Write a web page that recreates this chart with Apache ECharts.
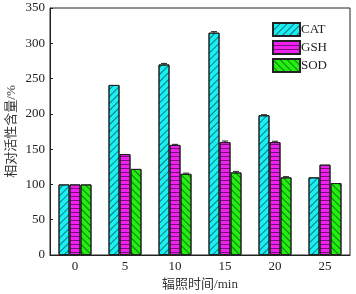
<!DOCTYPE html>
<html>
<head>
<meta charset="utf-8">
<script src="https://cdn.jsdelivr.net/npm/echarts@6/dist/echarts.min.js"></script>
<style>
  html, body { margin: 0; padding: 0; background: #fff; }
  #chart { width: 356px; height: 294px; }
</style>
</head>
<body>
<div id="chart"></div>
<script>
// irradiation time (min)
const times = ['0', '5', '10', '15', '20', '25'];
const catValues = [100, 241, 270, 315, 198, 110];
const gshValues = [100, 143, 156, 160, 160, 128];
const sodValues = [100, 122, 115, 117, 110, 102];
const catErr = [0, 0, 1.5, 1.5, 0.8, 0];
const gshErr = [0, 0, 0.8, 1.5, 1.2, 0];
const sodErr = [0, 0, 1, 1.5, 1, 0];

const serif = 'Liberation Serif, Times New Roman, serif';
const cjk = 'Liberation Serif, Noto Sans CJK SC, serif';

function hatch(rotation, gap) {
  return {
    symbol: 'rect',
    color: 'rgba(0,0,0,0.5)',
    dashArrayX: [1, 0],
    dashArrayY: [1, gap],
    rotation: rotation,
    symbolSize: 1
  };
}

function barSeries(name, data, color, decal) {
  return {
    name: name,
    type: 'bar',
    data: data,
    barWidth: 11,
    barGap: '0%',
    itemStyle: { color: color, borderColor: '#222', borderWidth: 1, decal: decal },
    emphasis: { disabled: true }
  };
}

// small error caps drawn on top of the bars
function errSeries(values, errs, offset) {
  return {
    type: 'custom',
    silent: true,
    z: 5,
    data: values.map((v, i) => [i, v, errs[i]]),
    renderItem: (params, api) => {
      const e = api.value(2);
      if (!e) return null;
      const top = api.coord([api.value(0), api.value(1) + e]);
      const bot = api.coord([api.value(0), api.value(1) - e]);
      const x = top[0] + offset;
      const style = { stroke: '#222', lineWidth: 1 };
      return {
        type: 'group',
        children: [
          { type: 'line', shape: { x1: x, y1: top[1], x2: x, y2: bot[1] }, style },
          { type: 'line', shape: { x1: x - 3, y1: top[1], x2: x + 3, y2: top[1] }, style }
        ]
      };
    }
  };
}

const chart = echarts.init(document.getElementById('chart'));
chart.setOption({
  animation: false,
  grid: {
    left: 50, right: 6, top: 8, bottom: 39,
    outerBoundsMode: 'none',
    show: true, borderColor: '#222', borderWidth: 1
  },
  legend: {
    data: ['CAT', 'GSH', 'SOD'],
    orient: 'vertical',
    left: 272,
    top: 22,
    padding: 0,
    itemWidth: 27,
    itemHeight: 13,
    itemGap: 3,
    icon: 'rect',
    textStyle: { fontFamily: serif, fontSize: 13, color: '#222', padding: [0, 0, 0, -4] },
    selectedMode: false
  },
  xAxis: {
    type: 'category',
    data: times,
    name: '辐照时间/min',
    nameLocation: 'middle',
    nameMoveOverlap: false,
    nameGap: 23,
    nameTextStyle: { fontFamily: cjk, fontSize: 13, color: '#333' },
    axisLine: { lineStyle: { color: '#222' } },
    axisTick: { show: false },
    axisLabel: { fontFamily: serif, fontSize: 13, color: '#222', margin: 5 }
  },
  yAxis: {
    type: 'value',
    min: 0,
    max: 350,
    interval: 50,
    name: '相对活性含量/%',
    nameLocation: 'middle',
    nameMoveOverlap: false,
    nameGap: 32,
    nameTextStyle: { fontFamily: cjk, fontSize: 13, color: '#333' },
    axisLine: { show: true, lineStyle: { color: '#222' } },
    axisTick: { show: true, inside: true, length: 3, lineStyle: { color: '#222' } },
    splitLine: { show: false },
    axisLabel: { fontFamily: serif, fontSize: 13, color: '#222', margin: 5 }
  },
  series: [
    barSeries('CAT', catValues, '#19f0f5', hatch(-Math.PI / 4, 4)),
    barSeries('GSH', gshValues, '#f020f0', hatch(0, 3)),
    barSeries('SOD', sodValues, '#22ee10', hatch(Math.PI / 4, 4)),
    errSeries(catValues, catErr, -11),
    errSeries(gshValues, gshErr, 0),
    errSeries(sodValues, sodErr, 11)
  ]
});
</script>
</body>
</html>
